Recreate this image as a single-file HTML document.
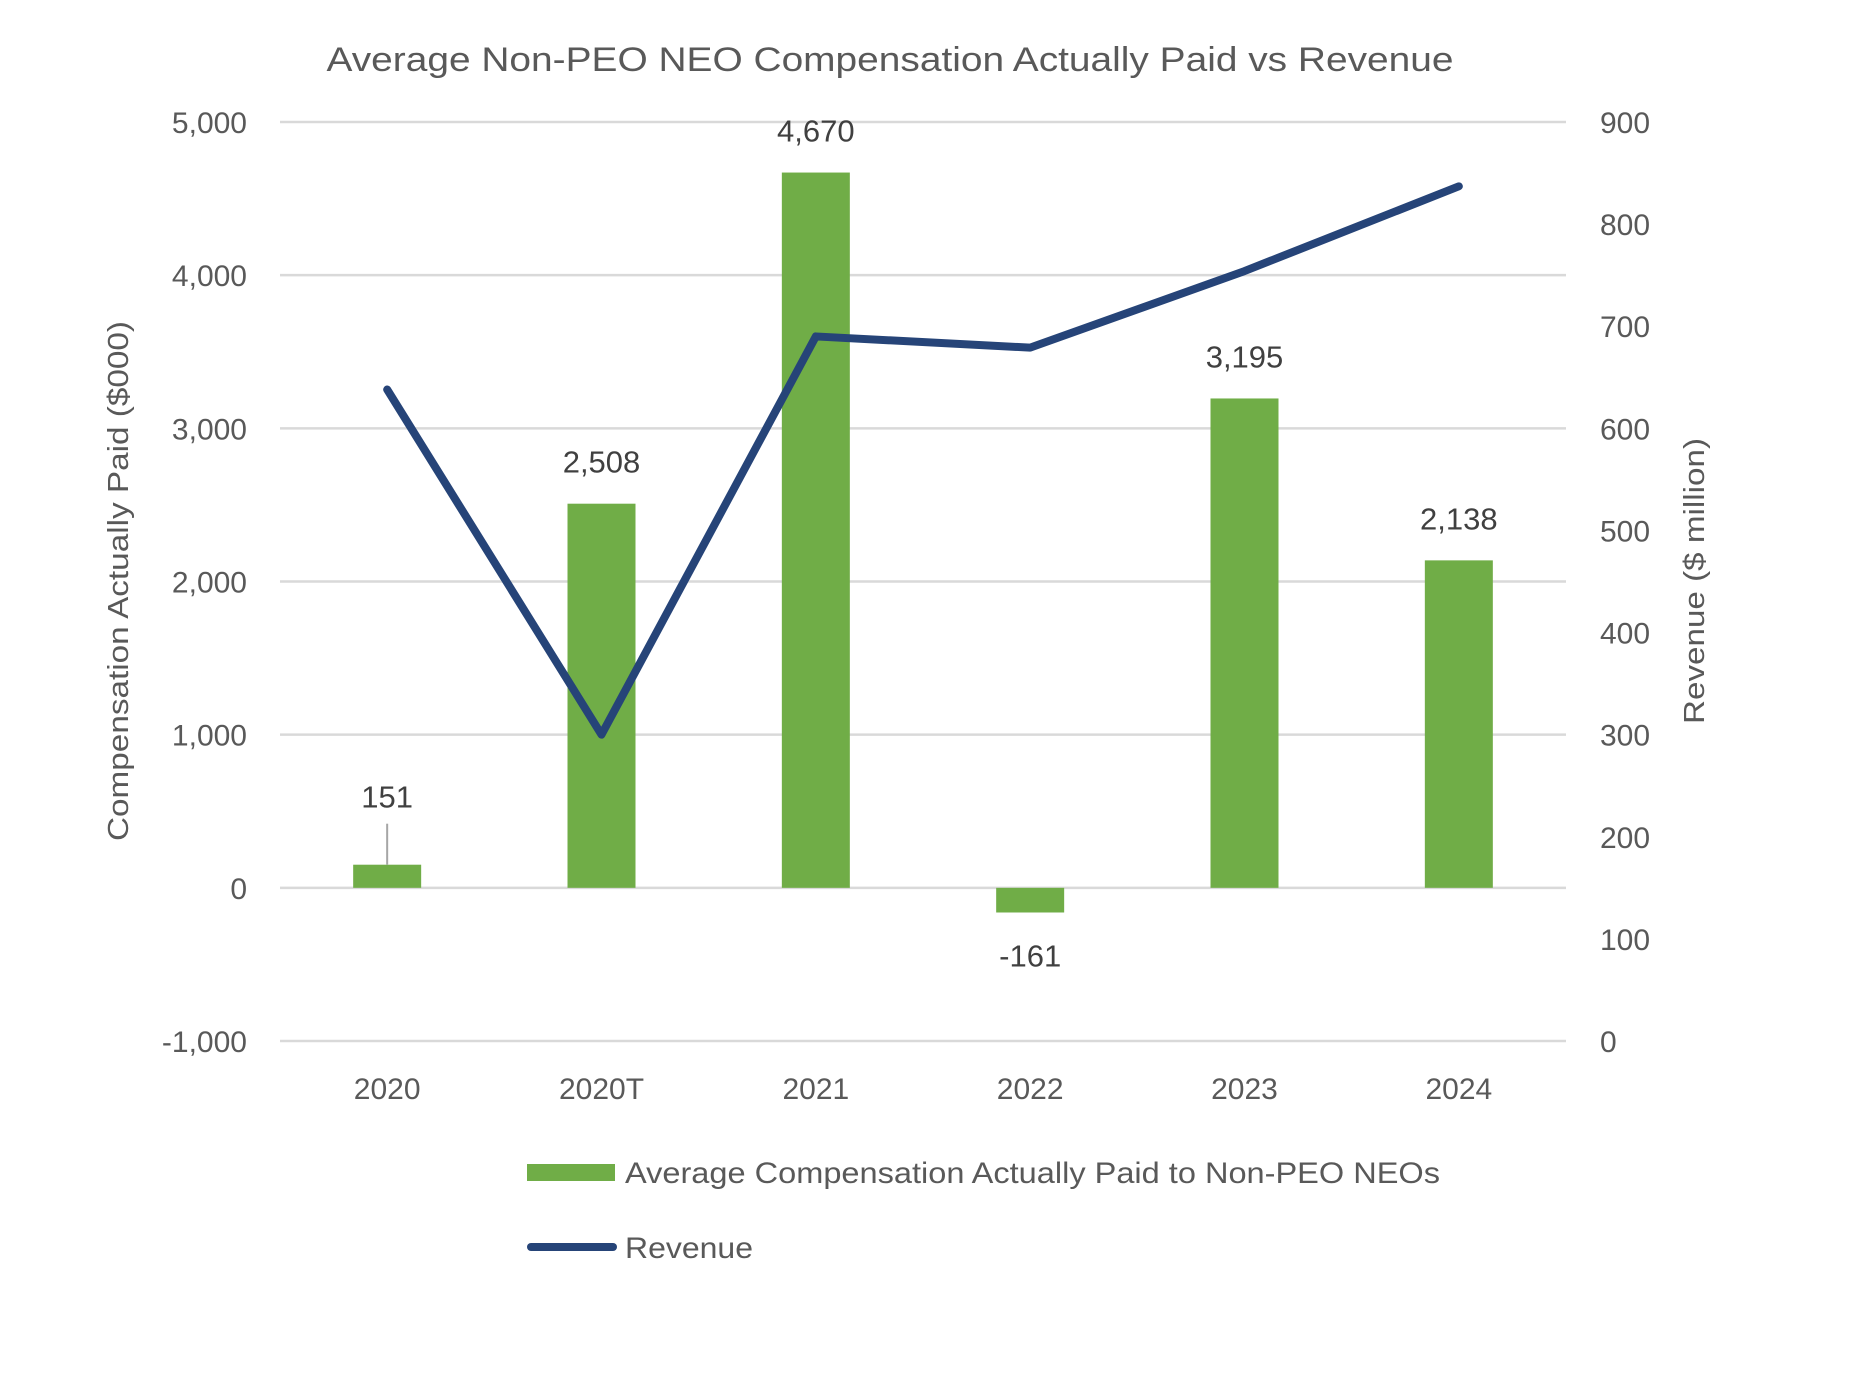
<!DOCTYPE html>
<html><head><meta charset="utf-8"><style>
html,body{margin:0;padding:0;background:#fff;}
svg text{font-family:"Liberation Sans",sans-serif;}
</style></head><body>
<svg id="chart" width="1855" height="1389" viewBox="0 0 1855 1389" xmlns="http://www.w3.org/2000/svg">
<text x="890" y="71" text-anchor="middle" font-size="34" fill="#595959" textLength="1127" lengthAdjust="spacingAndGlyphs">Average Non-PEO NEO Compensation Actually Paid vs Revenue</text>
<g id="grid"></g><g id="bars"></g><g id="line"></g><g id="labels"></g>
<text transform="translate(128,581) rotate(-90)" text-anchor="middle" font-size="29" fill="#595959" textLength="520" lengthAdjust="spacingAndGlyphs">Compensation Actually Paid ($000)</text>
<text transform="translate(1704,581) rotate(-90)" text-anchor="middle" font-size="29" fill="#595959" textLength="286" lengthAdjust="spacingAndGlyphs">Revenue ($ million)</text>
<g>
<rect x="527" y="1164" width="88" height="17" fill="#70AD47"/>
<text x="625" y="1183" font-size="30" fill="#595959" textLength="815" lengthAdjust="spacingAndGlyphs">Average Compensation Actually Paid to Non-PEO NEOs</text>
<line x1="531" y1="1247" x2="613" y2="1247" stroke="#264478" stroke-width="8" stroke-linecap="round"/>
<text x="625" y="1258" font-size="30" fill="#595959" textLength="128" lengthAdjust="spacingAndGlyphs">Revenue</text>
</g>
</svg>
<script>
const categories=["2020","2020T","2021","2022","2023","2024"];
const compValues=[151,2508,4670,-161,3195,2138];
const compLabels=["151","2,508","4,670","-161","3,195","2,138"];
const revenueValues=[638,300,690,679,754,837];
const leftTicks=[-1000,0,1000,2000,3000,4000,5000];
const leftTickLabels=["-1,000","0","1,000","2,000","3,000","4,000","5,000"];
const rightTicks=[0,100,200,300,400,500,600,700,800,900];

const NS="http://www.w3.org/2000/svg";
const X0=280,X1=1566,YT=122,YB=1041;
const band=(X1-X0)/categories.length;
const xc=i=>X0+band*(i+0.5);
const yL=v=>YB-(v+1000)/6000*(YB-YT);
const yR=v=>YB-v/900*(YB-YT);
function mk(tag,attrs,parent,txt){const e=document.createElementNS(NS,tag);for(const k in attrs)e.setAttribute(k,attrs[k]);if(txt!==undefined)e.textContent=txt;parent.appendChild(e);return e;}
const grid=document.getElementById('grid'),bars=document.getElementById('bars'),line=document.getElementById('line'),labels=document.getElementById('labels');
leftTicks.forEach((t,i)=>{
  const g=mk('line',{x1:X0,x2:X1,y1:yL(t),y2:yL(t),stroke:'#d9d9d9','stroke-width':2.5},grid);
  
  
  const l=mk('text',{x:247,y:yL(t)+11,'text-anchor':'end','font-size':30,fill:'#595959'},grid,leftTickLabels[i]);
  
  
});
rightTicks.forEach(t=>{
  const l=mk('text',{x:1600,y:yR(t)+11,'font-size':30,fill:'#595959'},grid,String(t));
  
  
});
categories.forEach((c,i)=>{
  const l=mk('text',{x:xc(i),y:yL(-1000)+58,'text-anchor':'middle','font-size':30,fill:'#595959'},grid,c);
  
  
});
const bw=68;
compValues.forEach((v,i)=>{
  const y0=yL(0),y1=yL(v);
  const r=mk('rect',{x:xc(i)-bw/2,y:Math.min(y0,y1),width:bw,height:Math.abs(y1-y0),fill:'#70AD47'},bars);
  
  
  let ly;
  if(v<0){ly=y1+54;}
  else if(v<500){ly=y1-57;
    const ld=mk('line',{x1:xc(i),x2:xc(i),y1:y1-41,y2:y1,stroke:'#a6a6a6','stroke-width':2},labels);
    
    
  } else {ly=y1-31;}
  const t=mk('text',{x:xc(i),y:ly,'text-anchor':'middle','font-size':31,fill:'#404040'},labels,compLabels[i]);
  
  
});
const pts=revenueValues.map((v,i)=>xc(i)+','+yR(v)).join(' ');
const pl=mk('polyline',{points:pts,fill:'none',stroke:'#264478','stroke-width':8,'stroke-linejoin':'round','stroke-linecap':'round'},line);


</script>
</body></html>
